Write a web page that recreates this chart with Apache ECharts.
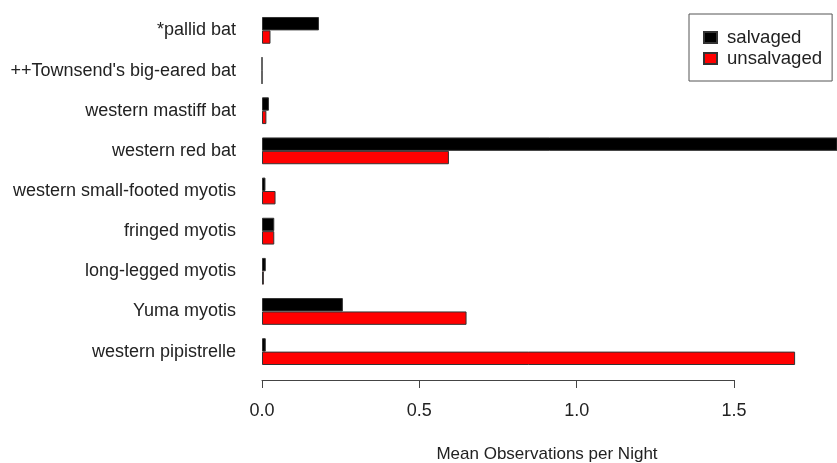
<!DOCTYPE html>
<html>
<head>
<meta charset="utf-8">
<script src="https://cdn.jsdelivr.net/npm/echarts@6/dist/echarts.min.js"></script>
<style>
html,body{margin:0;padding:0;background:#fff;}
#chart{width:837px;height:463px;}
</style>
</head>
<body>
<div id="chart"></div>
<script>
var categories = ["*pallid bat", "++Townsend's big-eared bat", "western mastiff bat", "western red bat", "western small-footed myotis", "fringed myotis", "long-legged myotis", "Yuma myotis", "western pipistrelle"];
var salvaged = [0.181, 0, 0.022, 2.0, 0.011, 0.039, 0.012, 0.257, 0.012];
var unsalvaged = [0.027, 0, 0.014, 0.594, 0.043, 0.039, 0.006, 0.65, 1.694];
var tickValues = [0, 0.5, 1.0, 1.5];
var seriesNames = ["salvaged", "unsalvaged"];
var xTitle = "Mean Observations per Night";

var FONT = "'Liberation Sans', Arial, sans-serif";
var FS = 18;
var chart = echarts.init(document.getElementById('chart'), null, {renderer: 'canvas'});
var option = {
  animation: false,
  backgroundColor: '#ffffff',
  textStyle: {fontFamily: FONT},
  title: {
    text: xTitle,
    left: 542, top: 441, textAlign: 'center',
    textStyle: {fontFamily: FONT, fontSize: 17, fontWeight: 'normal', color: '#222'}
  },
  legend: {
    orient: 'vertical',
    left: 689, top: 14,
    borderColor: '#555', borderWidth: 1,
    padding: [14, 10, 13, 14],
    itemWidth: 13, itemHeight: 11, itemGap: 2,
    icon: 'rect',
    data: seriesNames,
    textStyle: {fontFamily: FONT, fontSize: 18.6, color: '#222', padding: [0, 0, 0, 5]}
  },
  grid: [
    {left: 262, right: 0, top: 10.3, height: 361.4, containLabel: false},
    {left: 262, width: 472.05, top: 379, height: 1, containLabel: false}
  ],
  xAxis: [
    {type: 'value', gridIndex: 0, min: 0, max: 575 / 314.7,
     axisLine: {show: false}, axisTick: {show: false}, axisLabel: {show: false}, splitLine: {show: false}},
    {type: 'value', gridIndex: 1, min: 0, max: tickValues[tickValues.length - 1], interval: 0.5,
     axisLine: {show: true, lineStyle: {color: '#444', width: 1}},
     axisTick: {show: true, length: 8, lineStyle: {color: '#444', width: 1}},
     axisLabel: {show: true, margin: 22, fontFamily: FONT, fontSize: FS, color: '#222',
       formatter: function (v) { return v.toFixed(1); }},
     splitLine: {show: false}}
  ],
  yAxis: [
    {type: 'category', gridIndex: 0, data: categories, inverse: true,
     axisLine: {show: false}, axisTick: {show: false},
     axisLabel: {margin: 26, fontFamily: FONT, fontSize: FS, color: '#222'}},
    {type: 'value', gridIndex: 1, show: false}
  ],
  series: [
    {name: seriesNames[0], type: 'bar', xAxisIndex: 0, yAxisIndex: 0, data: salvaged,
     barGap: '0%', barCategoryGap: '33.3%',
     itemStyle: {color: '#000000', borderColor: '#333', borderWidth: 1}},
    {name: seriesNames[1], type: 'bar', xAxisIndex: 0, yAxisIndex: 0, data: unsalvaged,
     barGap: '0%', barCategoryGap: '33.3%',
     itemStyle: {color: '#ff0000', borderColor: '#333', borderWidth: 1}}
  ]
};
chart.setOption(option);
</script>
</body>
</html>
